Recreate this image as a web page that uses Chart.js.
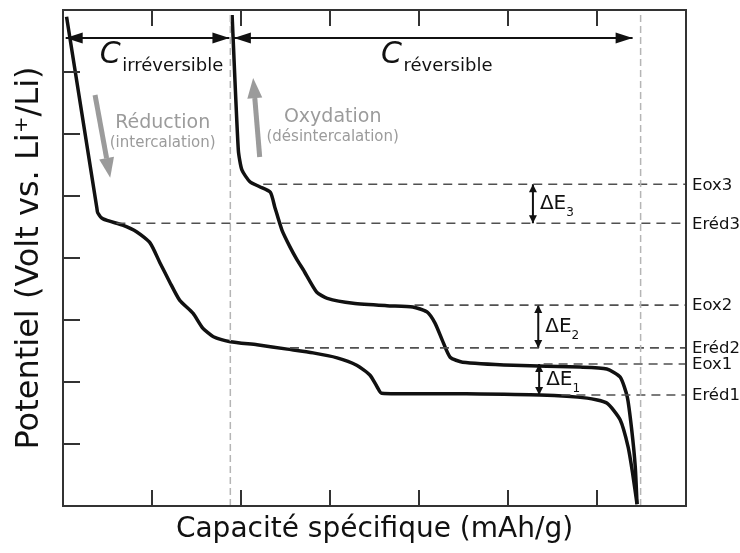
<!DOCTYPE html>
<html>
<head>
<meta charset="utf-8">
<script src="https://cdn.jsdelivr.net/npm/chart.js@4.4.1/dist/chart.umd.min.js"></script>
<style>
  html, body { margin: 0; padding: 0; background: #fff; }
  #wrap { width: 740px; height: 553px; }
</style>
</head>
<body>
<div id="wrap"><canvas id="chart" width="740" height="553"></canvas></div>
<script>
// ── Axes (arbitrary units, no tick labels) ─────────────────────────
const X_MIN = 0, X_MAX = 7;
const Y_MIN = 0, Y_MAX = 8;
const X_TICKS = [1, 2, 3, 4, 5, 6];
const Y_TICKS = [1, 2, 3, 4, 5, 6, 7];

// ── First reduction (discharge) curve ──────────────────────────────
const RED_X = [0.04, 0.38, 0.39, 0.45, 0.67, 0.83, 0.98, 1.09, 1.20, 1.31, 1.46, 1.57, 1.69, 1.88,
               2.18, 2.52, 2.81, 3.08, 3.30, 3.45, 3.53, 3.58, 4.46, 5.36, 5.89, 6.11, 6.26, 6.35, 6.40, 6.45];
const RED_Y = [7.89, 4.81, 4.73, 4.63, 4.53, 4.42, 4.24, 3.92, 3.61, 3.32, 3.11, 2.87, 2.73, 2.65,
               2.60, 2.53, 2.47, 2.39, 2.27, 2.11, 1.92, 1.82, 1.81, 1.79, 1.74, 1.66, 1.39, 0.95, 0.53, 0.03];

// ── Oxidation (charge) curve ───────────────────────────────────────
const OX_X = [6.45, 6.43, 6.39, 6.34, 6.26, 6.11, 5.81, 5.06, 4.49, 4.35, 4.26, 4.18, 4.09, 3.93,
              3.64, 3.26, 2.97, 2.85, 2.70, 2.63, 2.55, 2.46, 2.38, 2.33, 2.21, 2.10, 2.01, 1.97, 1.90];
const OX_Y = [0.03, 0.63, 1.23, 1.76, 2.08, 2.21, 2.24, 2.27, 2.32, 2.40, 2.68, 2.95, 3.13, 3.21,
              3.23, 3.27, 3.35, 3.45, 3.81, 3.97, 4.18, 4.45, 4.82, 5.06, 5.15, 5.23, 5.42, 5.74, 7.92];

// ── Potential levels (dashed lines + right-hand labels) ────────────
const LEVEL_NAMES  = ['Eox3', 'Eréd3', 'Eox2', 'Eréd2', 'Eox1', 'Eréd1'];
const LEVEL_VALUES = [5.19, 4.56, 3.24, 2.55, 2.29, 1.79];
const LEVEL_STARTS = [2.25, 0.60, 3.95, 2.55, 5.40, 5.60];

// ── Vertical guides (end of 1st reduction, end of cycle) ───────────
const GUIDE_X = [1.88, 6.49];

// ── Capacity arrows ────────────────────────────────────────────────
const CAP_NAMES = ['irréversible', 'réversible'];
const CAP_FROM  = [0.03, 1.92];
const CAP_TO    = [1.87, 6.40];
const CAP_LEVEL = 7.55;
const CAP_LABEL_X = [0.53, 3.69];
const CAP_LABEL_Y = 7.27;

// ── ΔE arrows ──────────────────────────────────────────────────────
const DELTA_NAMES  = ['3', '2', '1'];
const DELTA_X      = [5.28, 5.34, 5.35];
const DELTA_TOP    = [5.19, 3.24, 2.29];
const DELTA_BOTTOM = [4.56, 2.55, 1.79];

// ── Direction arrows + notes (grey) ────────────────────────────────
const DIR_FROM_X = [0.36, 2.21];
const DIR_FROM_Y = [6.63, 5.63];
const DIR_TO_X   = [0.49, 2.155];
const DIR_TO_Y   = [5.61, 6.58];
const NOTE_TEXT  = ['Réduction', '(intercalation)', 'Oxydation', '(désintercalation)'];
const NOTE_X     = [1.12, 1.12, 3.03, 3.03];
const NOTE_Y     = [6.18, 5.85, 6.27, 5.95];

// ── Styling ────────────────────────────────────────────────────────
const FONT  = '"DejaVu Sans", "Open Sans", sans-serif';
const INK   = '#111111';
const FRAME = '#333333';
const GREY  = '#9b9b9b';

const pts = (xs, ys) => xs.map((x, i) => ({ x, y: ys[i] }));

const datasets = [];

GUIDE_X.forEach(gx => datasets.push({
  data: [{ x: gx, y: Y_MIN }, { x: gx, y: Y_MAX }],
  borderColor: '#b5b5b5', borderWidth: 1.5, borderDash: [7, 4],
}));

LEVEL_VALUES.forEach((v, i) => datasets.push({
  data: [{ x: LEVEL_STARTS[i], y: v }, { x: X_MAX, y: v }],
  borderColor: '#505050', borderWidth: 1.6, borderDash: [9, 6],
}));

datasets.push({ data: pts(RED_X, RED_Y), borderColor: INK, borderWidth: 3.5, tension: 0.2 });
datasets.push({ data: pts(OX_X, OX_Y),   borderColor: INK, borderWidth: 3.5, tension: 0.2 });

CAP_FROM.forEach((x0, i) => datasets.push({
  data: [{ x: x0, y: CAP_LEVEL }, { x: CAP_TO[i], y: CAP_LEVEL }],
  borderColor: INK, borderWidth: 2, head: 'both', headLen: 17, headWid: 11,
}));

DELTA_X.forEach((x, i) => datasets.push({
  data: [{ x, y: DELTA_TOP[i] }, { x, y: DELTA_BOTTOM[i] }],
  borderColor: INK, borderWidth: 2, head: 'both', headLen: 8, headWid: 8,
}));

DIR_FROM_X.forEach((x, i) => datasets.push({
  data: [{ x, y: DIR_FROM_Y[i] }, { x: DIR_TO_X[i], y: DIR_TO_Y[i] }],
  borderColor: GREY, borderWidth: 5, head: 'end', headLen: 20, headWid: 15, headBeyond: true,
}));

// ── Helpers ────────────────────────────────────────────────────────
function drawHead(ctx, tip, from, len, wid, color, beyond) {
  const dx = tip.x - from.x, dy = tip.y - from.y;
  const d = Math.hypot(dx, dy) || 1;
  const ux = dx / d, uy = dy / d;
  const t = beyond ? { x: tip.x + ux * len, y: tip.y + uy * len } : tip;
  const bx = t.x - ux * len, by = t.y - uy * len;
  ctx.beginPath();
  ctx.moveTo(t.x, t.y);
  ctx.lineTo(bx - uy * wid / 2, by + ux * wid / 2);
  ctx.lineTo(bx + uy * wid / 2, by - ux * wid / 2);
  ctx.closePath();
  ctx.fillStyle = color;
  ctx.fill();
}

function text(ctx, s, x, y, size, color, opts = {}) {
  ctx.font = `${opts.italic ? 'italic ' : ''}${size}px ${FONT}`;
  ctx.fillStyle = color;
  ctx.textAlign = opts.align || 'left';
  ctx.textBaseline = 'middle';
  ctx.fillText(s, x, y);
}

// ── Overlay plugin: frame, inward ticks, arrow heads, annotations ──
const overlay = {
  id: 'overlay',
  afterDatasetsDraw(chart) {
    const { ctx, chartArea: a, scales: { x: xs, y: ys } } = chart;
    ctx.save();

    // arrow heads
    chart.data.datasets.forEach((ds, i) => {
      if (!ds.head) return;
      const el = chart.getDatasetMeta(i).data;
      const p0 = el[0], p1 = el[el.length - 1];
      drawHead(ctx, p1, p0, ds.headLen, ds.headWid, ds.borderColor, ds.headBeyond);
      if (ds.head === 'both') drawHead(ctx, p0, p1, ds.headLen, ds.headWid, ds.borderColor, ds.headBeyond);
    });

    // frame + inward ticks
    ctx.strokeStyle = FRAME;
    ctx.lineWidth = 2;
    ctx.strokeRect(a.left, a.top, a.right - a.left, a.bottom - a.top);
    ctx.beginPath();
    X_TICKS.forEach(v => {
      const px = Math.round(xs.getPixelForValue(v));
      ctx.moveTo(px, a.bottom); ctx.lineTo(px, a.bottom - 16);
      ctx.moveTo(px, a.top);    ctx.lineTo(px, a.top + 16);
    });
    Y_TICKS.forEach(v => {
      const py = Math.round(ys.getPixelForValue(v));
      ctx.moveTo(a.left, py); ctx.lineTo(a.left + 17, py);
    });
    ctx.stroke();

    // level labels on the right
    LEVEL_NAMES.forEach((n, i) => {
      text(ctx, n, a.right + 6, ys.getPixelForValue(LEVEL_VALUES[i]) + 1, 16.5, INK);
    });

    // capacity labels
    CAP_NAMES.forEach((n, i) => {
      const px = xs.getPixelForValue(CAP_LABEL_X[i]);
      const py = ys.getPixelForValue(CAP_LABEL_Y);
      text(ctx, 'C', px, py, 30, INK, { italic: true, align: 'center' });
      text(ctx, n, px + 12, py + 11, 18, INK);
    });

    // ΔE labels
    DELTA_NAMES.forEach((n, i) => {
      const px = xs.getPixelForValue(DELTA_X[i]) + 7;
      const py = ys.getPixelForValue((DELTA_TOP[i] + DELTA_BOTTOM[i]) / 2);
      text(ctx, 'ΔE', px, py, 20, INK);
      ctx.font = `20px ${FONT}`;
      const w = ctx.measureText('ΔE').width;
      text(ctx, n, px + w, py + 9, 12, INK);
    });

    // grey notes
    NOTE_TEXT.forEach((s, i) => {
      text(ctx, s, xs.getPixelForValue(NOTE_X[i]), ys.getPixelForValue(NOTE_Y[i]),
           i % 2 === 0 ? 19 : 15, GREY, { align: 'center' });
    });

    ctx.restore();
  },
};

new Chart(document.getElementById('chart'), {
  type: 'line',
  data: { datasets },
  options: {
    responsive: false,
    animation: false,
    events: [],
    layout: { padding: { top: 10, right: 54, left: 0, bottom: 0 } },
    elements: { point: { radius: 0 }, line: { borderCapStyle: 'butt' } },
    plugins: { legend: { display: false }, tooltip: { enabled: false } },
    scales: {
      x: {
        type: 'linear', min: X_MIN, max: X_MAX,
        ticks: { display: false }, grid: { display: false }, border: { display: false },
        title: {
          display: true, text: 'Capacité spécifique (mAh/g)', color: INK,
          font: { family: FONT, size: 28 }, padding: { top: 0, bottom: 6 },
        },
        afterFit: s => { s.height = 47; },
      },
      y: {
        type: 'linear', min: Y_MIN, max: Y_MAX,
        ticks: { display: false }, grid: { display: false }, border: { display: false },
        title: {
          display: true, text: 'Potentiel (Volt vs. Li⁺/Li)', color: INK,
          font: { family: FONT, size: 32 }, padding: { top: 10, bottom: 0 },
        },
        afterFit: s => { s.width = 63; },
      },
    },
  },
  plugins: [overlay],
});
</script>
</body>
</html>
